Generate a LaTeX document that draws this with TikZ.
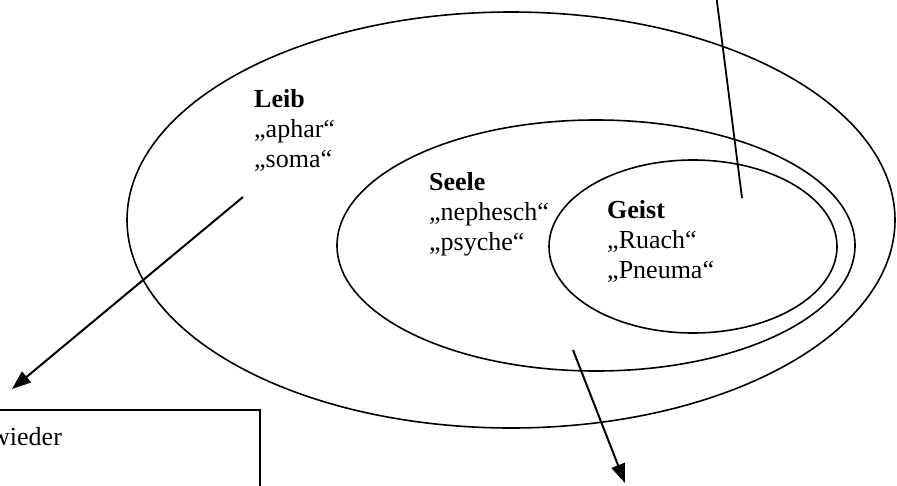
\documentclass[tikz,border=0pt]{standalone}
\usepackage{fontspec}
\setmainfont{Liberation Serif}
\usetikzlibrary{shapes.geometric,arrows.meta}
\begin{document}
\begin{tikzpicture}[x=1pt,y=-1pt,
  ring/.style={draw, ellipse, line width=1.6pt, inner sep=0pt},
  lbl/.style={anchor=base west, inner sep=0pt, font=\fontsize{26}{30}\selectfont},
  pointer/.style={line width=2pt, -{Triangle[length=19pt,width=14pt]}},
  plainline/.style={line width=1.8pt},
]
\useasboundingbox (0,0) rectangle (897,485);
\clip (0,0) rectangle (897,485);
% ellipses
\node[ring, minimum width=768pt, minimum height=416pt] (leib) at (511,220) {};
\node[ring, minimum width=518pt, minimum height=251pt] (seele) at (596,245.5) {};
\node[ring, minimum width=288pt, minimum height=173pt] (geist) at (693,246.5) {};
% labels
\node[lbl] (leibT) at (254,107) {\textbf{Leib}};
\node[lbl] (leibA) at (254,137) {„aphar“};
\node[lbl] (leibB) at (254,167) {„soma“};
\node[lbl] (seeleT) at (429,190) {\textbf{Seele}};
\node[lbl] (seeleA) at (429,220) {„nephesch“};
\node[lbl] (seeleB) at (429,250) {„psyche“};
\node[lbl] (geistT) at (607,218) {\textbf{Geist}};
\node[lbl] (geistA) at (607,248) {„Ruach“};
\node[lbl] (geistB) at (607,278) {„Pneuma“};
% box
\node[draw, line width=1.6pt, anchor=north east, minimum width=300pt, minimum height=120pt, inner sep=0pt] (box) at (261,409) {};
\node[lbl] (boxT) at (-9,445) {wieder};
% connectors
\coordinate (leibFrom) at (243,197);
\coordinate (leibTo) at (12,389);
\draw[pointer] (leibFrom) -- (leibTo);
\coordinate (seeleFrom) at (573,350);
\coordinate (seeleTo) at (625,483);
\draw[pointer] (seeleFrom) -- (seeleTo);
\coordinate (geistFrom) at (742,198);
\coordinate (geistTop) at (715.5,-10);
\draw[plainline] (geistFrom) -- (geistTop);
\end{tikzpicture}
\end{document}
